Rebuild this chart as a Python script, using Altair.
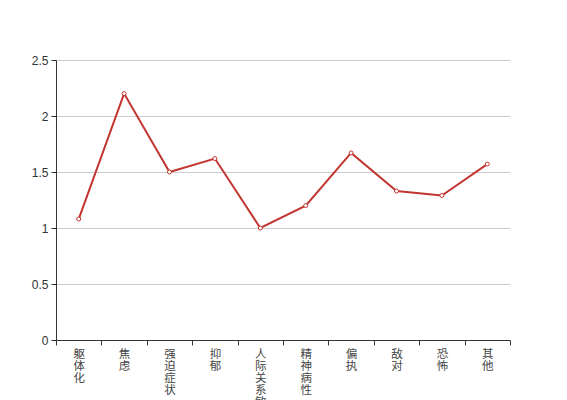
import altair as alt
import pandas as pd

categories = ["躯体化", "焦虑", "强迫症状", "抑郁", "人际关系敏感", "精神病性", "偏执", "敌对", "恐怖", "其他"]
values = [1.08, 2.2, 1.5, 1.62, 1.0, 1.2, 1.67, 1.33, 1.29, 1.57]
y_ticks = [0, 0.5, 1, 1.5, 2, 2.5]

df = pd.DataFrame({"cat": categories, "val": values})

FONT = "Liberation Sans, Noto Sans CJK SC, sans-serif"
RED = "#c23531"

x = alt.X(
    "cat:N",
    sort=categories,
    title=None,
    scale=alt.Scale(type="band", paddingInner=0, paddingOuter=0),
    axis=alt.Axis(
        labelAngle=0,
        labelExpr="split(datum.label, '')",
        labelBaseline="top",
        labelAlign="center",
        labelLineHeight=12,
        labelFontSize=11.5,
        labelFont="Noto Sans CJK SC",
        labelColor="#444",
        labelPadding=3,
        tickBand="extent",
        tickSize=5,
        tickColor="#333",
        domainColor="#333",
        grid=False,
        labelOverlap=False,
        labelBound=False,
    ),
)
y = alt.Y(
    "val:Q",
    title=None,
    scale=alt.Scale(domain=[0, 2.5], nice=False),
    axis=alt.Axis(
        values=y_ticks,
        format="~g",
        labelFontSize=12,
        labelFont=FONT,
        labelColor="#333",
        labelPadding=3,
        tickSize=5,
        tickColor="#333",
        domainColor="#333",
        gridColor="#cccccc",
        gridWidth=1,
    ),
)

chart = (
    alt.Chart(df)
    .mark_line(
        color=RED,
        strokeWidth=2,
        point=alt.OverlayMarkDef(
            shape="circle", filled=True, fill="white", stroke=RED, strokeWidth=1, size=16, opacity=1
        ),
    )
    .encode(x=x, y=y)
    .properties(
        width=454,
        height=280,
        autosize=alt.AutoSizeParams(type="none"),
        padding={"left": 48, "top": 52, "right": 40, "bottom": 60},
    )
    .configure(font=FONT)
    .configure_view(strokeWidth=0, stroke="transparent")
)

chart.save("out.html", embed_options={"renderer": "svg", "actions": False})
